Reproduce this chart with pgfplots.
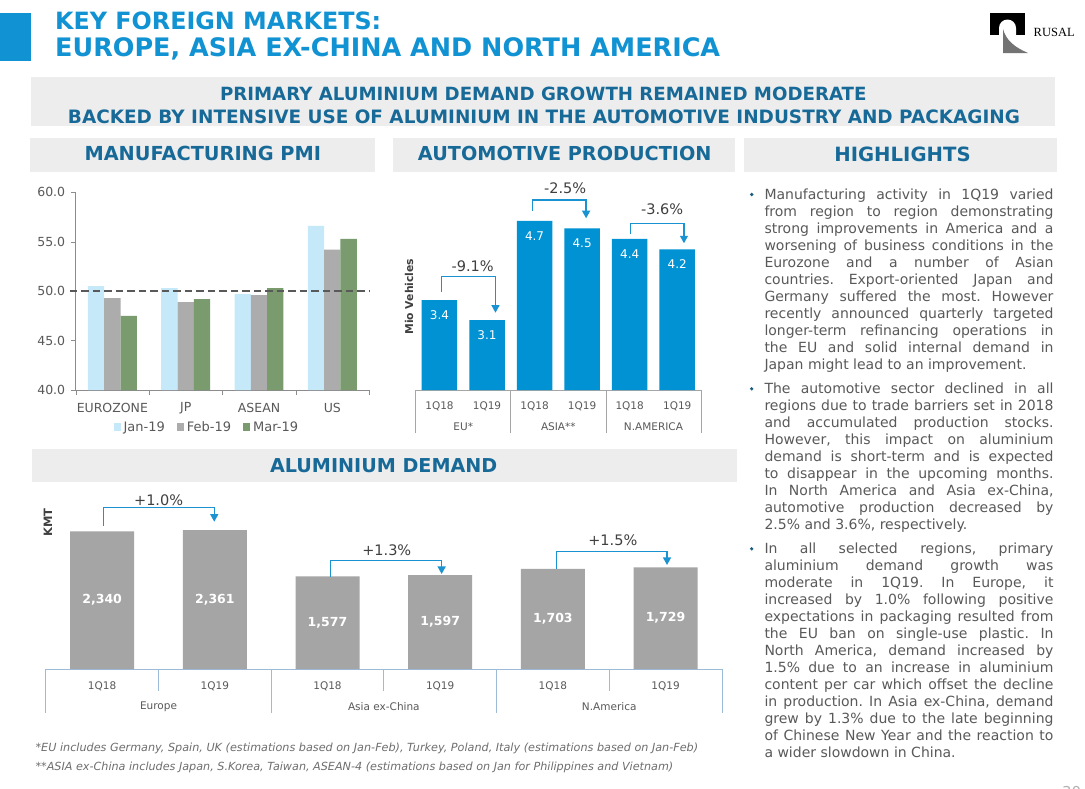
\documentclass[border=0pt]{standalone}
\usepackage{fontspec}
\setmainfont{DejaVu Sans}
\newfontfamily\logofont{Liberation Serif}
\usepackage{graphicx}
\usepackage{pgfplots}
\usepackage{pgfplotstable}
\pgfplotsset{compat=1.18}
\usetikzlibrary{arrows.meta}

\definecolor{titleblue}{HTML}{1192D2}
\definecolor{headblue}{HTML}{176A98}
\definecolor{boxgray}{HTML}{EDEDED}
\definecolor{txtgray}{HTML}{595959}
\definecolor{pctgray}{HTML}{404040}
\definecolor{axgray}{HTML}{8C8C8C}
\definecolor{janblue}{HTML}{C6E9FA}
\definecolor{febgray}{HTML}{ACACAC}
\definecolor{margreen}{HTML}{7A9B6E}
\definecolor{autoblue}{HTML}{0092D3}
\definecolor{almgray}{HTML}{A5A5A5}
\definecolor{arrowblue}{HTML}{1C93D1}
\definecolor{sepblue}{HTML}{9CBBD9}
\definecolor{sepgray}{HTML}{A6A6A6}
\definecolor{bulletblue}{HTML}{1B5E84}
\definecolor{notegray}{HTML}{6E6E6E}

% manufacturing PMI
\pgfplotstableread{
x jan feb mar
0 50.5 49.3 47.5
1 50.3 48.9 49.2
2 49.7 49.6 50.3
3 56.6 54.2 55.3
}\pmidata

% automotive production, mio vehicles
\pgfplotstableread{
x y lab
0 3.42 3.4
1 3.10 3.1
2 4.70 4.7
3 4.58 4.5
4 4.41 4.4
5 4.24 4.2
}\autodata

% aluminium demand, kmt
\pgfplotstableread{
x y lab
0 2340 2,340
1 2361 2,361
2 1577 1,577
3 1597 1,597
4 1703 1,703
5 1729 1,729
}\almdata

\tikzset{
  growarrow/.style={draw=arrowblue, line width=1.3pt, -{Triangle[width=8pt,length=7.5pt]}},
  pct/.style={font=\fontsize{14.5}{16}\selectfont, text=pctgray},
  hl/.style={anchor=north west, inner sep=0pt, text width=289pt, align=justify, text=txtgray, font=\fontsize{14}{17}\selectfont},
}
\newcommand{\fs}[1]{\fontsize{#1}{#1}\selectfont}

\begin{document}
\frenchspacing
\begin{tikzpicture}
\path[use as bounding box, fill=white] (0,0) rectangle (1085pt,-788pt);

\begin{scope}[x=1pt,y=-1pt]
% header
\fill[titleblue] (0,13) rectangle (31,61);
\node[anchor=base west, inner sep=0, text=titleblue] at (55,29.5)
  {\resizebox{326pt}{!}{\fs{24}\bfseries KEY FOREIGN MARKETS:}};
\node[anchor=base west, inner sep=0, text=titleblue] at (55,56)
  {\resizebox{665pt}{!}{\fs{24}\bfseries EUROPE, ASIA EX-CHINA AND NORTH AMERICA}};
% logo
\fill[black] (990,13) rectangle (1025,35);
\fill[white] (999,35) -- (999,28) arc[start angle=180, end angle=360, radius=8.5] -- (1016,35) -- cycle;
\fill[black!55] (1003,29) -- (1003,53) -- (1028,53) .. controls (1014,47) and (1006,40) .. (1003,29) -- cycle;
\node[anchor=base west, inner sep=0] at (1033.5,36) {\logofont\fs{12.5}RUSAL};
% banner
\fill[boxgray] (31,77.3) rectangle (1055,126);
\node[anchor=base, inner sep=0, text=headblue] at (543.3,100.7)
  {\resizebox{646.5pt}{!}{\fs{16}\bfseries PRIMARY ALUMINIUM DEMAND GROWTH REMAINED MODERATE}};
\node[anchor=base, inner sep=0, text=headblue] at (544,123.3)
  {\resizebox{952pt}{!}{\fs{16}\bfseries BACKED BY INTENSIVE USE OF ALUMINIUM IN THE AUTOMOTIVE INDUSTRY AND PACKAGING}};
% section boxes
\fill[boxgray] (30,138) rectangle (375,171.7);
\fill[boxgray] (392.5,138) rectangle (735,171.7);
\fill[boxgray] (744,138) rectangle (1057,171.7);
\fill[boxgray] (32,449) rectangle (737,481.7);
\node[anchor=base, inner sep=0, text=headblue] at (202.8,160.7)
  {\resizebox{236.5pt}{!}{\fs{19}\bfseries MANUFACTURING PMI}};
\node[anchor=base, inner sep=0, text=headblue] at (564.8,160.7)
  {\resizebox{293.6pt}{!}{\fs{19}\bfseries AUTOMOTIVE PRODUCTION}};
\node[anchor=base, inner sep=0, text=headblue] at (902.5,161)
  {\resizebox{136.3pt}{!}{\fs{19}\bfseries HIGHLIGHTS}};
\node[anchor=base, inner sep=0, text=headblue] at (383.7,472)
  {\resizebox{227.3pt}{!}{\fs{19}\bfseries ALUMINIUM DEMAND}};
% axis titles
\node[rotate=90, inner sep=0, text=pctgray, font=\fs{10.8}\bfseries] at (409,296.7) {Mio Vehicles};
\node[rotate=90, inner sep=0, text=pctgray, font=\fs{11.5}\bfseries] at (48,522.7) {KMT};
% highlights
\foreach \yy in {194.5,388.8,548.8} \fill[bulletblue] (751.7,\yy) circle[radius=1.8];
\node[hl] at (764.3,187.4)
{\hyphenpenalty=10000\tolerance=10000\noindent\strut Manufacturing activity in 1Q19 varied\linebreak
from region to region demonstrating\linebreak
strong improvements in America and a\linebreak
worsening of business conditions in the\linebreak
Eurozone and a number of Asian\linebreak
countries. Export-oriented Japan and\linebreak
Germany suffered the most. However\linebreak
recently announced quarterly targeted\linebreak
longer-term refinancing operations in\linebreak
the EU and solid internal demand in\linebreak
Japan might lead to an improvement.};
\node[hl] at (764.3,381.4)
{\hyphenpenalty=10000\tolerance=10000\noindent\strut The automotive sector declined in all\linebreak
regions due to trade barriers set in 2018\linebreak
and accumulated production stocks.\linebreak
However, this impact on aluminium\linebreak
demand is short-term and is expected\linebreak
to disappear in the upcoming months.\linebreak
In North America and Asia ex-China,\linebreak
automotive production decreased by\linebreak
2.5\% and 3.6\%, respectively.};
\node[hl] at (764.3,541.4)
{\hyphenpenalty=10000\tolerance=10000\noindent\strut In all selected regions, primary\linebreak
aluminium demand growth was\linebreak
moderate in 1Q19. In Europe, it\linebreak
increased by 1.0\% following positive\linebreak
expectations in packaging resulted from\linebreak
the EU ban on single-use plastic. In\linebreak
North America, demand increased by\linebreak
1.5\% due to an increase in aluminium\linebreak
content per car which offset the decline\linebreak
in production. In Asia ex-China, demand\linebreak
grew by 1.3\% due to the late beginning\linebreak
of Chinese New Year and the reaction to\linebreak
a wider slowdown in China.};
% footnotes
\node[anchor=base west, inner sep=0, text=notegray] at (35.4,751.5)
  {\resizebox{662.5pt}{!}{\fs{11}\itshape *EU includes Germany, Spain, UK (estimations based on Jan-Feb), Turkey, Poland, Italy (estimations based on Jan-Feb)}};
\node[anchor=base west, inner sep=0, text=notegray] at (35.4,770.5)
  {\resizebox{637.6pt}{!}{\fs{11}\itshape **ASIA ex-China includes Japan, S.Korea, Taiwan, ASEAN-4 (estimations based on Jan for Philippines and Vietnam)}};
\node[anchor=base west, inner sep=0, text=black!30] at (1062,797) {\fs{15}30};
\end{scope}

% ---------------- Manufacturing PMI ----------------
\begin{axis}[
  at={(75.7pt,-390pt)}, anchor=south west, scale only axis,
  width=293.3pt, height=197.7pt,
  ymin=40, ymax=60, ytick={40,45,...,60},
  xmin=-0.5, xmax=3.5,
  ybar=0pt, bar width=16.3pt,
  clip mode=individual,
  axis x line=bottom, axis y line=left,
  axis line style={-, draw=axgray},
  xtick={0,1,2,3}, xticklabels={EUROZONE,JP,ASEAN,US},
  minor xtick={-0.5,0.5,1.5,2.5,3.5},
  major x tick style={draw=none},
  minor x tick style={draw=axgray},
  ytick style={draw=axgray},
  major tick length=5pt, minor tick length=5pt, tick align=outside,
  ticklabel style={font=\fs{12.5}, text=txtgray},
  xticklabel style={anchor=center, yshift=-13pt},
  yticklabel style={xshift=-2pt, /pgf/number format/fixed, /pgf/number format/fixed zerofill, /pgf/number format/precision=1},
  /pgf/number format/assume math mode=true,
  legend image code/.code={\fill[#1] (0pt,-3.6pt) rectangle (7pt,3.6pt);},
  legend style={draw=none, fill=none, at={(axis description cs:0.447,-0.187)}, anchor=center,
    legend columns=3, font=\fs{13}, text=txtgray, inner sep=0pt,
    /tikz/every odd column/.append style={column sep=1pt},
    /tikz/every even column/.append style={column sep=10pt}},
]
\addplot[fill=janblue, draw=none] table[x=x, y=jan] {\pmidata};
\addlegendentry{Jan-19}
\addplot[fill=febgray, draw=none] table[x=x, y=feb] {\pmidata};
\addlegendentry{Feb-19}
\addplot[fill=margreen, draw=none] table[x=x, y=mar] {\pmidata};
\addlegendentry{Mar-19}
\draw[txtgray, line width=1.8pt, dash pattern=on 7.5pt off 4pt] (axis cs:-0.58,50) -- (axis cs:3.5,50);
\end{axis}

% ---------------- Automotive production ----------------
\begin{axis}[
  at={(415.7pt,-390pt)}, anchor=south west, scale only axis,
  width=285.3pt, height=200pt,
  ymin=1.97, ymax=5.2, xmin=-0.5, xmax=5.5,
  ybar, bar width=35.5pt,
  clip mode=individual,
  axis x line=bottom, axis y line=none,
  axis line style={-, draw=sepgray},
  xtick={0,...,5}, xticklabels={1Q18,1Q19,1Q18,1Q19,1Q18,1Q19},
  xtick style={draw=none}, ytick=\empty,
  ticklabel style={font=\fs{10.5}, text=txtgray},
  xticklabel style={anchor=center, yshift=-14pt},
]
\addplot[fill=autoblue, draw=none,
  nodes near coords, point meta=explicit symbolic,
  every node near coord/.append style={anchor=center, yshift=-15pt, font=\fs{12}, text=white}]
  table[x=x, y=y, meta=lab] {\autodata};
\pgfplotsinvokeforeach{-0.5,1.5,3.5,5.5}{
  \draw[sepgray, line width=0.8pt] (axis cs:#1,1.97) -- ++(0pt,-43pt);
}
\node[font=\fs{10.5}, text=txtgray] at (axis cs:0.5,1.97) [yshift=-36.7pt] {EU*};
\node[font=\fs{10.5}, text=txtgray] at (axis cs:2.5,1.97) [yshift=-36.7pt] {ASIA**};
\node[font=\fs{10.5}, text=txtgray] at (axis cs:4.5,1.97) [yshift=-36.7pt] {N.AMERICA};
\draw[growarrow] (axis cs:0.045,3.558) |- (axis cs:1.178,3.80) -- (axis cs:1.178,3.219);
\draw[growarrow] (axis cs:1.95,4.862) |- (axis cs:3.084,5.039) -- (axis cs:3.084,4.744);
\draw[growarrow] (axis cs:4.011,4.485) |- (axis cs:5.142,4.663) -- (axis cs:5.142,4.340);
\node[pct] at (axis cs:0.697,3.973) {-9.1\%};
\node[pct] at (axis cs:2.644,5.233) {-2.5\%};
\node[pct] at (axis cs:4.684,4.889) {-3.6\%};
\end{axis}

% ---------------- Aluminium demand ----------------
\begin{axis}[
  at={(45.8pt,-669pt)}, anchor=south west, scale only axis,
  width=676.1pt, height=152.9pt,
  ymin=0, ymax=2600, xmin=-0.5, xmax=5.5,
  ybar, bar width=64pt,
  clip mode=individual,
  axis x line=bottom, axis y line=none,
  axis line style={-, draw=sepblue},
  xtick={0,...,5}, xticklabels={1Q18,1Q19,1Q18,1Q19,1Q18,1Q19},
  xtick style={draw=none}, ytick=\empty,
  ticklabel style={font=\fs{10.5}, text=txtgray},
  xticklabel style={anchor=center, yshift=-15pt},
]
\addplot[fill=almgray, draw=none,
  nodes near coords, point meta=explicit symbolic,
  visualization depends on=y \as \rawy,
  every node near coord/.append style={anchor=center, shift={(axis direction cs:0,-\rawy/2)}, font=\fs{12.5}\bfseries, text=white}]
  table[x=x, y=y, meta=lab] {\almdata};
\pgfplotsinvokeforeach{-0.5,1.5,3.5,5.5}{
  \draw[sepblue, line width=0.8pt] (axis cs:#1,0) -- ++(0pt,-43.5pt);
}
\pgfplotsinvokeforeach{0.5,2.5,4.5}{
  \draw[sepblue, line width=0.8pt] (axis cs:#1,0) -- ++(0pt,-21.7pt);
}
\node[font=\fs{10.5}, text=txtgray] at (axis cs:0.5,0) [yshift=-38pt] {Europe};
\node[font=\fs{10.5}, text=txtgray] at (axis cs:2.5,0) [yshift=-38pt] {Asia ex-China};
\node[font=\fs{10.5}, text=txtgray] at (axis cs:4.5,0) [yshift=-38pt] {N.America};
\draw[growarrow] (axis cs:0.011,2432) |- (axis cs:0.995,2743) -- (axis cs:0.995,2505);
\draw[growarrow] (axis cs:2.028,1570) |- (axis cs:3.013,1842) -- (axis cs:3.013,1616);
\draw[growarrow] (axis cs:4.033,1706) |- (axis cs:5.013,1995) -- (axis cs:5.013,1769);
\node[pct] at (axis cs:0.501,2874) {+1.0\%};
\node[pct] at (axis cs:2.526,2024) {+1.3\%};
\node[pct] at (axis cs:4.532,2182) {+1.5\%};
\end{axis}
\end{tikzpicture}
\end{document}
